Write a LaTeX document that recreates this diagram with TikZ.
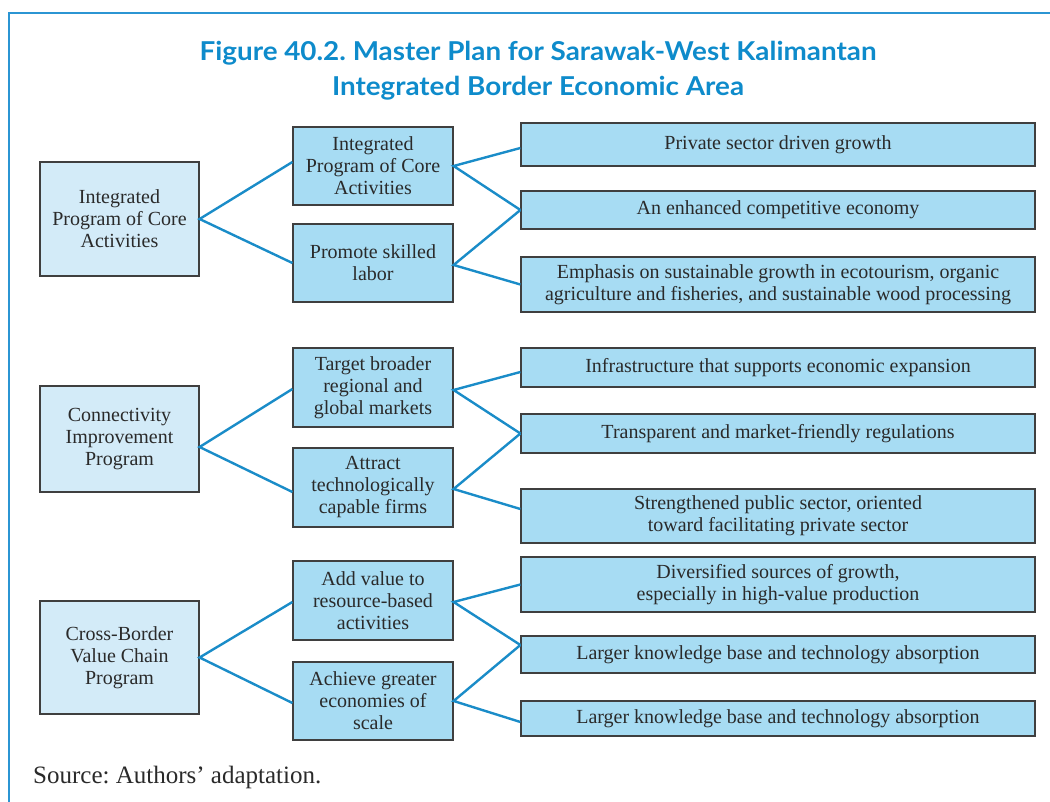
\documentclass[tikz,border=0pt]{standalone}
\usepackage{fontspec}
\setmainfont{Liberation Serif}
\newfontfamily\titlefont[FakeStretch=1.07]{Lato}
\definecolor{frameblue}{HTML}{2B95D3}
\definecolor{titleblue}{HTML}{0E8BCB}
\definecolor{linkblue}{HTML}{1A8CC8}
\definecolor{boxfill}{HTML}{A7DCF3}
\definecolor{lightfill}{HTML}{D3EBF8}
\definecolor{boxline}{HTML}{3F3F3F}
\definecolor{txt}{HTML}{2A2A2A}
\frenchspacing
\tikzset{
  box/.style={draw=boxline, line width=1.2pt, fill=boxfill, inner sep=0pt, align=center,
    text=txt, font=\fontsize{20}{22}\selectfont},
  leftbox/.style={box, fill=lightfill, minimum width=159pt},
  midbox/.style={box, minimum width=160pt},
  rightbox/.style={box, minimum width=514pt},
  link/.style={draw=linkblue, line width=2.4pt},
}
\begin{document}
\begin{tikzpicture}[x=1pt,y=-1pt]
\useasboundingbox (0,0) rectangle (1050,802);
\draw[frameblue, line width=1.8pt] (9,802) -- (9,13) -- (1050,13);

\node[text=titleblue, font=\titlefont\bfseries\fontsize{26}{35}\selectfont, align=center] (title) at (538,71)
  {Figure 40.2. Master Plan for Sarawak-West Kalimantan\\Integrated Border Economic Area};

% left column
\node[leftbox, minimum height=114pt] (L1) at (119.5,219) {Integrated\\Program of Core\\Activities};
\node[leftbox, minimum height=106pt] (L2) at (119.5,439) {Connectivity\\Improvement\\Program};
\node[leftbox, minimum height=113pt] (L3) at (119.5,657.5) {Cross-Border\\Value Chain\\Program};

% middle column
\node[midbox, minimum height=78pt] (M1a) at (373,166) {Integrated\\Program of Core\\Activities};
\node[midbox, minimum height=78pt] (M1b) at (373,263) {Promote skilled\\labor};
\node[midbox, minimum height=79pt] (M2a) at (373,387.5) {Target broader\\regional and\\global markets};
\node[midbox, minimum height=79pt] (M2b) at (373,487.5) {Attract\\technologically\\capable firms};
\node[midbox, minimum height=79pt] (M3a) at (373,600.5) {Add value to\\resource-based\\activities};
\node[midbox, minimum height=78pt] (M3b) at (373,701) {Achieve greater\\economies of\\scale};

% right column
\node[rightbox, minimum height=43pt] (R1) at (778,144.5) {Private sector driven growth};
\node[rightbox, minimum height=38pt] (R2) at (778,210) {An enhanced competitive economy};
\node[rightbox, minimum height=55pt] (R3) at (778,284.5) {Emphasis on sustainable growth in ecotourism, organic\\agriculture and fisheries, and sustainable wood processing};
\node[rightbox, minimum height=39pt] (R4) at (778,367.5) {Infrastructure that supports economic expansion};
\node[rightbox, minimum height=39pt] (R5) at (778,433.5) {Transparent and market-friendly regulations};
\node[rightbox, minimum height=54pt] (R6) at (778,516) {Strengthened public sector, oriented\\toward facilitating private sector};
\node[rightbox, minimum height=55pt] (R7) at (778,584.5) {Diversified sources of growth,\\especially in high-value production};
\node[rightbox, minimum height=37pt] (R8) at (778,654.5) {Larger knowledge base and technology absorption};
\node[rightbox, minimum height=35pt] (R9) at (778,718.5) {Larger knowledge base and technology absorption};

% connectors
\draw[link] ([yshift=4pt]M1a.west) -- (L1.east) -- (M1b.west);
\draw[link] ([yshift=-1.5pt]M2a.west) -- ([yshift=-8pt]L2.east) -- ([yshift=-4.5pt]M2b.west);
\draw[link] ([yshift=-1.5pt]M3a.west) -- (L3.east) -- ([yshift=-2pt]M3b.west);

\draw[link] ([yshift=-3.5pt]R1.west) -- (M1a.east) -- (R2.west);
\draw[link] (R2.west) -- ([yshift=-2pt]M1b.east) -- (R3.west);
\draw[link] ([yshift=-4.5pt]R4.west) -- ([yshift=-2.5pt]M2a.east) -- (R5.west);
\draw[link] (R5.west) -- ([yshift=-1.5pt]M2b.east) -- ([yshift=7pt]R6.west);
\draw[link] (R7.west) -- ([yshift=-1.5pt]M3a.east) -- ([yshift=9.5pt]R8.west);
\draw[link] ([yshift=9.5pt]R8.west) -- (M3b.east) -- ([yshift=-3.5pt]R9.west);

\node[anchor=base west, text=txt, font=\fontsize{25}{28}\selectfont, inner sep=0pt] (src) at (33,783) {Source: Authors’ adaptation.};
\end{tikzpicture}
\end{document}
